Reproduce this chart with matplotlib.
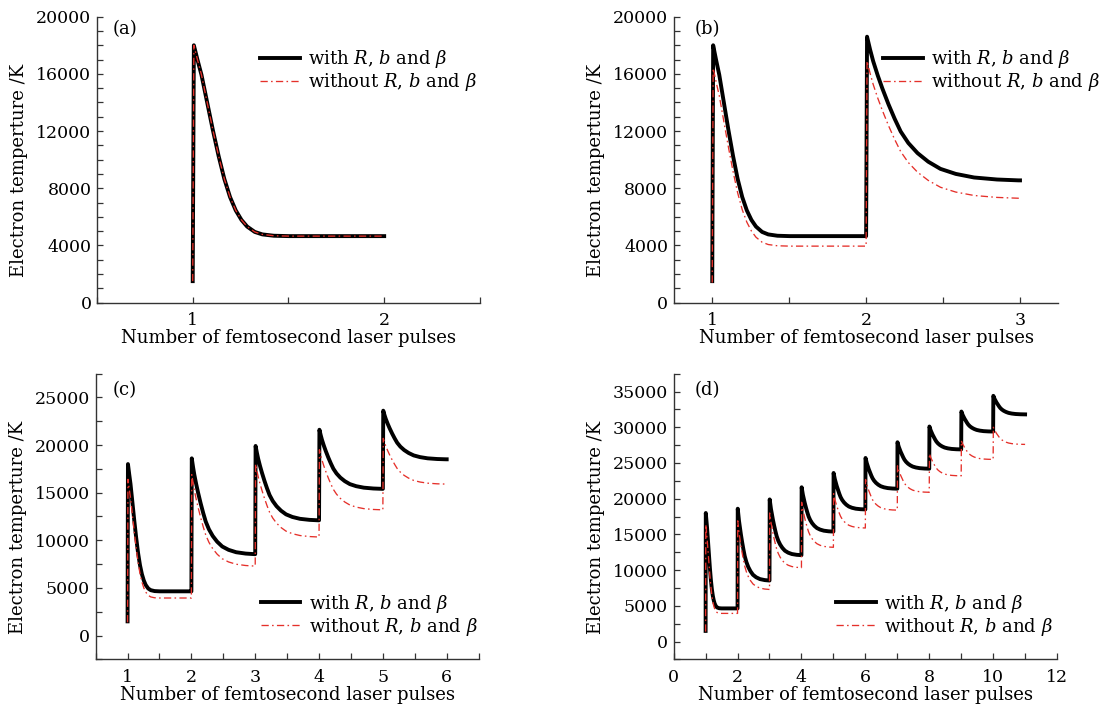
import matplotlib
matplotlib.use('Agg')
import matplotlib.pyplot as plt
from matplotlib.ticker import MultipleLocator

plt.rcParams['font.family'] = 'DejaVu Serif'
plt.rcParams['mathtext.fontset'] = 'dejavuserif'

# per-pulse peak / settled temperature (K)
with_peaks = [18000, 18600, 19900, 21600, 23600, 25700, 27900, 30100, 32200, 34400]
with_plateaus = [4650, 8550, 12100, 15400, 18500, 21400, 24200, 26900, 29400, 31800]
without_peaks = [16400, 16900, 18000, 19500, 20700, 22700, 24600, 26300, 28100, 30000]
without_plateaus = [3950, 7300, 10350, 13200, 15900, 18400, 20900, 23200, 25500, 27600]
# panel (a): both curves coincide
a_without_peaks = [18000]
a_without_plateaus = [4650]
with_start = 1500
without_start = 1400

# decay shape after a pulse: offset from pulse, fraction of (peak - plateau) left
first_offsets = [0, 0.02, 0.04, 0.07, 0.10, 0.13, 0.16, 0.19, 0.22, 0.25, 0.28, 0.32, 0.36, 0.42, 0.50, 0.99]
first_fracs = [1, 0.92, 0.845, 0.70, 0.555, 0.42, 0.30, 0.205, 0.135, 0.085, 0.05, 0.022, 0.009, 0.002, 0, 0]
later_offsets = [0, 0.02, 0.04, 0.07, 0.10, 0.14, 0.18, 0.22, 0.27, 0.33, 0.40, 0.48, 0.58, 0.70, 0.85, 0.99]
later_fracs = [1, 0.91, 0.83, 0.73, 0.64, 0.53, 0.43, 0.34, 0.26, 0.19, 0.13, 0.08, 0.045, 0.02, 0.006, 0]

panels = ['(a)', '(b)', '(c)', '(d)']
n_pulses = [1, 2, 5, 10]


def pulse_train(start, peaks, plateaus, n):
    xs, ys = [], []
    base = start
    for k in range(n):
        t0 = k + 1
        xs.append(t0)
        ys.append(base)
        if k == 0:
            offs, fracs = first_offsets, first_fracs
        else:
            offs, fracs = later_offsets, later_fracs
        for o, f in zip(offs, fracs):
            xs.append(t0 + 0.006 + o * 0.994)
            ys.append(plateaus[k] + f * (peaks[k] - plateaus[k]))
        base = plateaus[k]
    xs.append(n + 1)
    ys.append(plateaus[n - 1])
    return xs, ys


fig = plt.figure(figsize=(11.02, 7.07), dpi=100)
rects = [
    [0.0880, 0.5720, 0.3475, 0.4044],
    [0.6114, 0.5720, 0.3491, 0.4044],
    [0.0868, 0.0672, 0.3475, 0.4045],
    [0.6113, 0.0672, 0.3479, 0.4043],
]
xlims = [(0.5, 2.5), (0.75, 3.25), (0.5, 6.5), (0, 12)]
ylims = [(0, 20000), (0, 20000), (-2500, 27500), (-2500, 37500)]
xmaj = [1, 1, 1, 2]
xmin = [0.5, 0.5, 0.5, 1]
ymaj = [4000, 4000, 5000, 5000]
ymin = [1000, 1000, 2500, 2500]
leg_pos = [(0.427, 0.812), (0.545, 0.812), (0.431, 0.155), (0.424, 0.155)]
tag_pos = [(0.042, 0.955), (0.054, 0.955), (0.044, 0.942), (0.054, 0.942)]
fs = 13
tick_fs = 12.5

for i in range(4):
    ax = fig.add_axes(rects[i])
    n = n_pulses[i]
    x1, y1 = pulse_train(with_start, with_peaks, with_plateaus, n)
    if i == 0:
        x2, y2 = pulse_train(with_start, a_without_peaks, a_without_plateaus, n)
    else:
        x2, y2 = pulse_train(without_start, without_peaks, without_plateaus, n)
    ax.plot(x1, y1, color='black', lw=2.8, solid_joinstyle='round',
            label=r'with $R$, $b$ and $\beta$', zorder=2)
    ax.plot(x2, y2, color='#e5302a', lw=0.95, linestyle=(0, (5.5, 2.5, 1.2, 2.5)),
            label=r'without $R$, $b$ and $\beta$', zorder=3)

    ax.xaxis.set_major_locator(MultipleLocator(xmaj[i]))
    ax.xaxis.set_minor_locator(MultipleLocator(xmin[i]))
    ax.yaxis.set_major_locator(MultipleLocator(ymaj[i]))
    ax.yaxis.set_minor_locator(MultipleLocator(ymin[i]))
    if i < 3:
        ax.set_xticks([t for t in range(1, n + 2)])
    ax.set_ylim(*ylims[i])
    ax.set_xlim(*xlims[i])
    ax.tick_params(which='both', direction='in', length=4, width=0.9,
                   colors='#333333', labelcolor='black', labelsize=tick_fs,
                   top=False, right=False)
    ax.tick_params(axis='x', which='both', pad=7)
    ax.tick_params(axis='y', which='both', pad=4)
    for s in ['top', 'right']:
        ax.spines[s].set_visible(False)
    for s in ['left', 'bottom']:
        ax.spines[s].set_color('#333333')
        ax.spines[s].set_linewidth(1.0)

    ax.set_xlabel('Number of femtosecond laser pulses', fontsize=fs, labelpad=0)
    ax.set_ylabel('Electron temperture /K', fontsize=fs)
    ax.yaxis.set_label_coords(-0.18, 0.463)
    ax.text(tag_pos[i][0], tag_pos[i][1], panels[i], transform=ax.transAxes,
            fontsize=fs, ha='left', va='center')
    ax.legend(loc='center left', bbox_to_anchor=leg_pos[i], frameon=False,
              fontsize=fs, handlelength=2.2, handletextpad=0.45,
              labelspacing=0.05, borderpad=0, borderaxespad=0)

fig.savefig('out.png', dpi=100, facecolor='white')
